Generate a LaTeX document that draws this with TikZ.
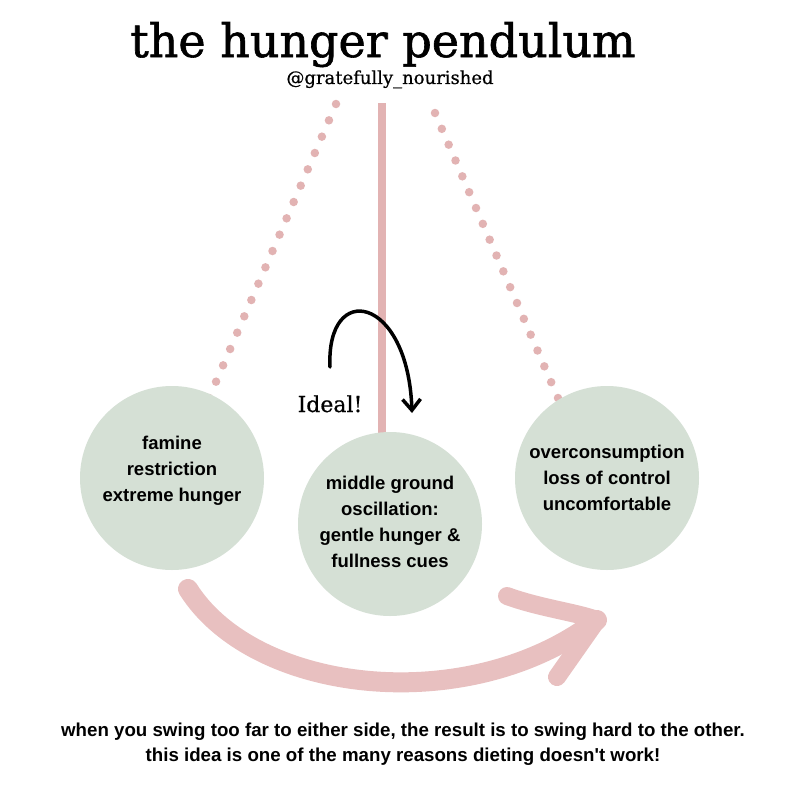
\documentclass[tikz,border=0pt]{standalone}
\usepackage{fontspec}
\setmainfont{DejaVu Serif}
\setsansfont{Liberation Sans}
\newfontfamily\titlefont[FakeBold=1.3]{DejaVu Serif}
\newfontfamily\handlefont[FakeBold=0.6]{DejaVu Serif}
\usetikzlibrary{calc,arrows.meta}
\definecolor{sage}{HTML}{D5E0D5}
\definecolor{rosebar}{HTML}{E2B3B3}
\definecolor{rosearrow}{HTML}{E8C0C0}
\begin{document}
\begin{tikzpicture}[x=1pt,y=-1pt,
  bubble/.style={circle,fill=sage,minimum size=184pt,inner sep=0pt},
  bubbletext/.style={align=center,font=\sffamily\bfseries\fontsize{18.5}{26}\selectfont},
  dotmark/.style={circle,fill=rosebar,inner sep=0pt,minimum size=8.5pt},
  bigarrow/.style={draw=rosearrow,line width=20pt,line cap=round,line join=round},
]
\useasboundingbox (0,0) rectangle (800,800);
\fill[white] (0,0) rectangle (800,800);

% title
\node[anchor=base,font=\titlefont\fontsize{46}{50}\selectfont,inner sep=0pt] (title) at (383,57) {the hunger pendulum};
\node[anchor=base,font=\handlefont\fontsize{18}{20}\selectfont,inner sep=0pt] (handle) at (390,84) {@gratefully\_nourished};

% dotted swing lines
\foreach \i in {0,...,18} {
  \node[dotmark] (l\i) at ($(336,104)!\i/18!(209,398)$) {};
  \node[dotmark] (r\i) at ($(435,113)!\i/18!(558,398)$) {};
}

% pendulum bar
\coordinate (pivot) at (382,103);
\coordinate (barbot) at (382,438);
\draw[rosebar,line width=8pt] (pivot) -- (barbot);

% bubbles
\node[bubble] (left) at (172,478) {};
\node[bubble] (mid) at (390,524) {};
\node[bubble] (right) at (607,478) {};

\node[bubbletext] (lefttext) at (172,471) {famine\\restriction\\extreme hunger};
\node[bubbletext] (midtext) at (390,522) {middle ground\\oscillation:\\gentle hunger \&\\fullness cues};
\node[bubbletext] (righttext) at (607,478) {overconsumption\\loss of control\\uncomfortable};

% ideal arrow
\node[anchor=base,font=\handlefont\fontsize{22}{24}\selectfont,inner sep=0pt] (ideal) at (330,412) {Ideal!};
\coordinate (as) at (330,367);
\coordinate (ae) at (412,413);
\draw[line width=3.5pt,line cap=round,-{Straight Barb[length=11pt,width=18pt]}] (as) .. controls (326,280) and (408,295) .. (ae);

% big swing arrow
\coordinate (bs) at (188,589);
\coordinate (be) at (597,620);
\coordinate (bu) at (507,596);
\coordinate (bl) at (557,677);
\draw[bigarrow] (bs) .. controls (255,695) and (470,718) .. (be);
\draw[bigarrow,line width=18pt] (bu) .. controls (540,608) and (575,612) .. (be) -- (bl);

% caption
\node[align=center,font=\sffamily\bfseries\fontsize{18.7}{25}\selectfont] (caption) at (403,744)
  {when you swing too far to either side, the result is to swing hard to the other.\\this idea is one of the many reasons dieting doesn\textquotesingle t work!};
\end{tikzpicture}
\end{document}
